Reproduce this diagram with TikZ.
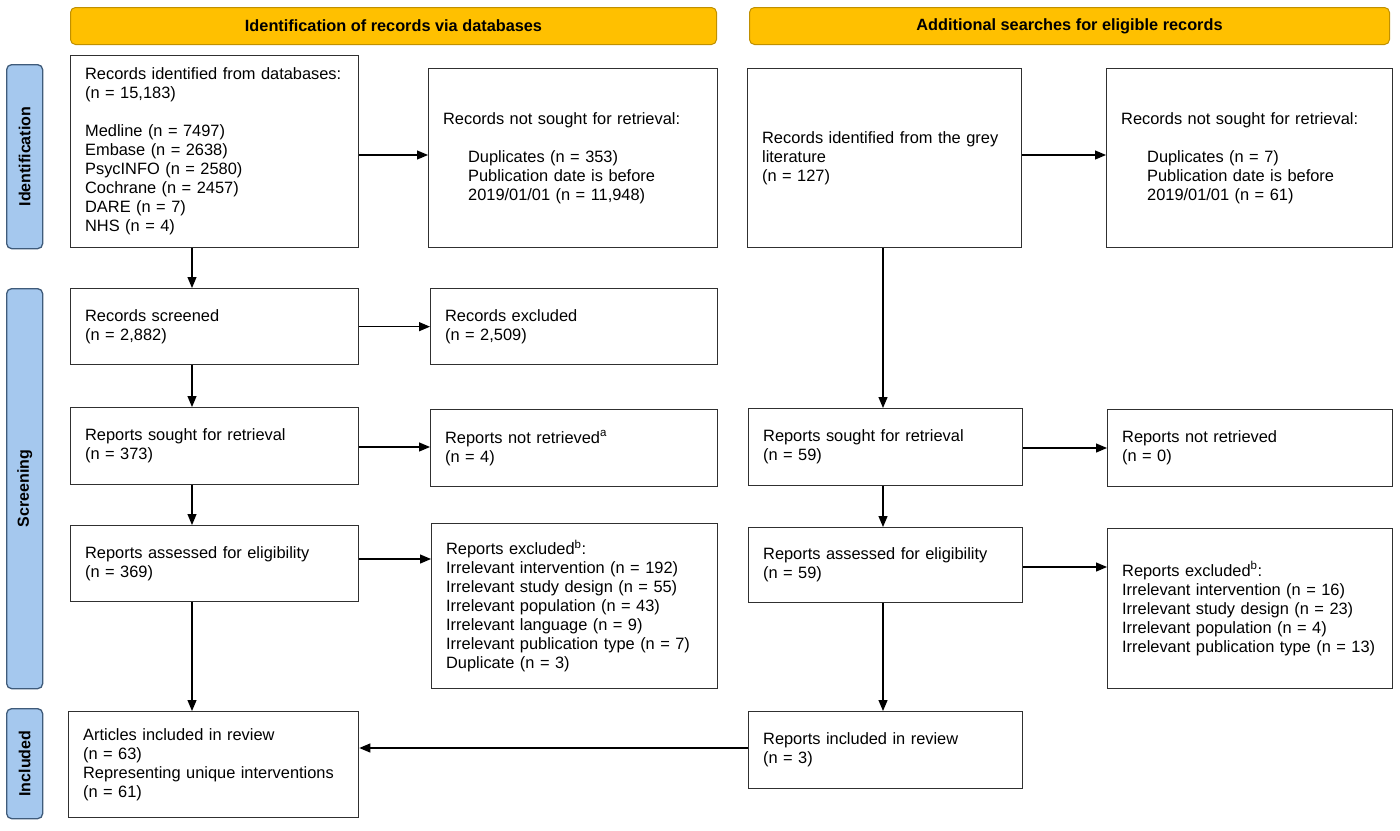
\documentclass[tikz,border=0pt]{standalone}
\usepackage{fontspec}
\setmainfont{Liberation Sans}
\usetikzlibrary{arrows.meta}
\definecolor{hdrfill}{HTML}{FFC000}
\definecolor{hdrline}{HTML}{C09000}
\definecolor{lblfill}{HTML}{A5C8EE}
\definecolor{lblline}{HTML}{3F5B7A}
\definecolor{boxline}{HTML}{303030}
\begin{document}
\begin{tikzpicture}[x=1pt,y=-1pt,
  box/.style={draw=boxline, line width=1.3pt, rectangle, anchor=north west, align=left,
    inner xsep=14.5pt, inner ysep=0pt, font=\fontsize{16.4}{19}\selectfont},
  hdr/.style={draw=hdrline, fill=hdrfill, line width=1pt, rounded corners=5pt,
    anchor=north west, inner sep=0pt, font=\bfseries\fontsize{16.3}{19}\selectfont},
  lbl/.style={draw=lblline, fill=lblfill, line width=1.3pt, rounded corners=5pt,
    anchor=north west, inner sep=0pt},
  lbltext/.style={rotate=90, inner sep=0pt, font=\bfseries\fontsize{16}{19}\selectfont},
  arr/.style={draw=black, line width=1.2pt, -{Triangle[length=11pt,width=9pt]}}]
\useasboundingbox (0,0) rectangle (1400,830);

% headers
\node[hdr, minimum width=646pt, minimum height=37pt] (hA) at (70,7) {Identification of records via databases};
\node[hdr, minimum width=640pt, minimum height=37pt] (hB) at (749,7) {Additional searches for eligible records};

% side labels
\node[lbl, minimum width=36pt, minimum height=184pt] (lId) at (6,64) {};
\node[lbltext] (lIdT) at (lId.center) {Identification};
\node[lbl, minimum width=36pt, minimum height=400pt] (lSc) at (6,288) {};
\node[lbltext] (lScT) at (lSc.center) {Screening};
\node[lbl, minimum width=36pt, minimum height=110pt] (lIn) at (6,708) {};
\node[lbltext] (lInT) at (lIn.center) {Included};

% left column
\node[box, text width=259pt, minimum height=192pt] (A1) at (70,55)
  {Records identified from databases:\\(n = 15,183)\\~\\Medline (n = 7497)\\Embase (n = 2638)\\PsycINFO (n = 2580)\\Cochrane (n = 2457)\\DARE (n = 7)\\NHS (n = 4)};
\node[box, text width=260pt, minimum height=179pt] (A2) at (428,68)
  {Records not sought for retrieval:\\~\\\hspace*{25pt}Duplicates (n = 353)\\\hspace*{25pt}Publication date is before\\\hspace*{25pt}2019/01/01 (n = 11,948)};
\node[box, text width=259pt, minimum height=76pt] (A3) at (70,288)
  {Records screened\\(n = 2,882)};
\node[box, text width=258pt, minimum height=76pt] (A4) at (430,288)
  {Records excluded\\(n = 2,509)};
\node[box, text width=259pt, minimum height=77pt] (A5) at (70,407)
  {Reports sought for retrieval\\(n = 373)};
\node[box, text width=258pt, minimum height=77pt] (A6) at (430,409)
  {Reports not retrieved\textsuperscript{a}\\(n = 4)};
\node[box, text width=259pt, minimum height=76pt] (A7) at (70,525)
  {Reports assessed for eligibility\\(n = 369)};
\node[box, text width=257pt, minimum height=165pt] (A8) at (431,523)
  {Reports excluded\textsuperscript{b}:\\Irrelevant intervention (n = 192)\\Irrelevant study design (n = 55)\\Irrelevant population (n = 43)\\Irrelevant language (n = 9)\\Irrelevant publication type (n = 7)\\Duplicate (n = 3)};
\node[box, text width=261pt, minimum height=106pt] (A9) at (68,711)
  {Articles included in review\\(n = 63)\\Representing unique interventions\\(n = 61)};

% right column
\node[box, text width=245pt, minimum height=179pt] (B1) at (747,68)
  {Records identified from the grey\\literature\\(n = 127)};
\node[box, text width=257pt, minimum height=179pt] (B2) at (1106,68)
  {Records not sought for retrieval:\\~\\\hspace*{26pt}Duplicates (n = 7)\\\hspace*{26pt}Publication date is before\\\hspace*{26pt}2019/01/01 (n = 61)};
\node[box, text width=245pt, minimum height=77pt] (B3) at (748,408)
  {Reports sought for retrieval\\(n = 59)};
\node[box, text width=256pt, minimum height=77pt] (B4) at (1107,409)
  {Reports not retrieved\\(n = 0)};
\node[box, text width=245pt, minimum height=75pt] (B5) at (748,527)
  {Reports assessed for eligibility\\(n = 59)};
\node[box, text width=256pt, minimum height=160pt] (B6) at (1107,528)
  {Reports excluded\textsuperscript{b}:\\Irrelevant intervention (n = 16)\\Irrelevant study design (n = 23)\\Irrelevant population (n = 4)\\Irrelevant publication type (n = 13)};
\node[box, text width=245pt, minimum height=77pt] (B7) at (748,711)
  {Reports included in review\\(n = 3)};

% helper coordinates
\coordinate (xa) at (192,0);
\coordinate (xb) at (883,0);
\coordinate (y1) at (0,155);
\coordinate (y3) at (0,447);
\coordinate (y3b) at (0,448);
\coordinate (y4) at (0,559);
\coordinate (y5) at (0,567);
\coordinate (y6) at (0,748);

% connectors left
\draw[arr] (A1.south -| xa) -- (A3.north -| xa);
\draw[arr] (A3.south -| xa) -- (A5.north -| xa);
\draw[arr] (A5.south -| xa) -- (A7.north -| xa);
\draw[arr] (A7.south -| xa) -- (A9.north -| xa);
\draw[arr] (A1.east |- y1) -- (A2.west |- y1);
\draw[arr] (A3.east) -- (A4.west |- A3.east);
\draw[arr] (A5.east |- y3) -- (A6.west |- y3);
\draw[arr] (A7.east |- y4) -- (A8.west |- y4);

% connectors right
\draw[arr] (B1.east |- y1) -- (B2.west |- y1);
\draw[arr] (B1.south -| xb) -- (B3.north -| xb);
\draw[arr] (B3.south -| xb) -- (B5.north -| xb);
\draw[arr] (B5.south -| xb) -- (B7.north -| xb);
\draw[arr] (B3.east |- y3b) -- (B4.west |- y3b);
\draw[arr] (B5.east |- y5) -- (B6.west |- y5);
\draw[arr] (B7.west |- y6) -- (A9.east |- y6);
\end{tikzpicture}
\end{document}
